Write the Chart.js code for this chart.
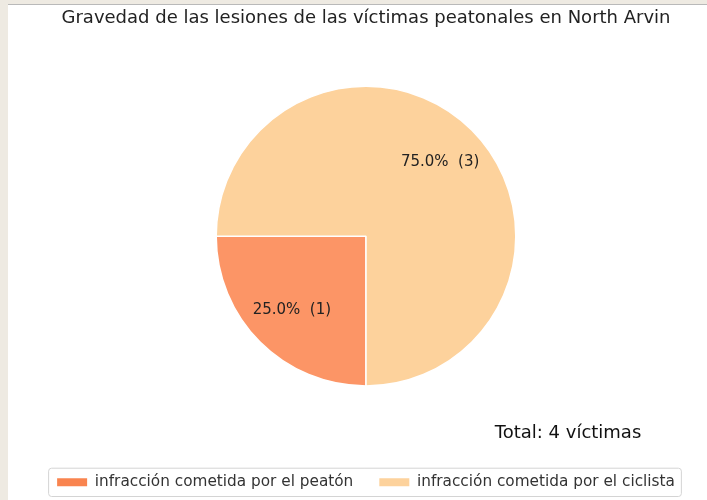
<html>
<head>
  <title></title>
  <style>
    body { margin: 0; background: #eeeae2; }
    #wrap { position: absolute; left: 8px; top: 4px; width: 699px; height: 496px; background: #fff; border-top: 1px solid #b9b9b9; box-sizing: border-box; }
  </style>
</head>
<body>
  <div id="wrap">
  <canvas id="myChart"></canvas>
</div>

<script src="https://cdn.jsdelivr.net/npm/chart.js"></script>

<script>
  const categories = ['infracción cometida por el peatón', 'infracción cometida por el ciclista'];
  const counts = [1, 3];
  const colors = ['#fc9566', '#fdd29c'];
  const swatchColors = ['#f9844f', '#fdd29c'];
  const titleText = 'Gravedad de las lesiones de las víctimas peatonales en North Arvin';
  const totalText = 'Total: 4 víctimas';

  const total = counts.reduce((a, b) => a + b, 0);

  // percent labels inside slices + total note + legend frame
  const extras = {
    id: 'extras',
    afterDatasetsDraw(chart) {
      const c = chart.ctx;
      const meta = chart.getDatasetMeta(0);
      c.save();
      c.font = '15px "DejaVu Sans"';
      c.fillStyle = '#222';
      c.textAlign = 'center';
      c.textBaseline = 'middle';
      meta.data.forEach((arc, i) => {
        const mid = (arc.startAngle + arc.endAngle) / 2;
        const r = arc.outerRadius * 0.7;
        const pct = (counts[i] / total * 100).toFixed(1) + '%  (' + counts[i] + ')';
        c.fillText(pct, arc.x + Math.cos(mid) * r, arc.y + Math.sin(mid) * r);
      });
      c.restore();
    },
    afterDraw(chart) {
      const c = chart.ctx;
      c.save();
      c.font = '18px "DejaVu Sans"';
      c.fillStyle = '#111';
      c.textAlign = 'center';
      c.textBaseline = 'middle';
      c.fillText(totalText, 560, 428);
      const boxes = chart.legend.legendHitBoxes;
      if (boxes && boxes.length) {
        const x0 = Math.min(...boxes.map(b => b.left)) - 9;
        const x1 = Math.max(...boxes.map(b => b.left + b.width)) + 6;
        const y0 = Math.min(...boxes.map(b => b.top)) - 7;
        const y1 = Math.max(...boxes.map(b => b.top + b.height)) + 6;
        c.strokeStyle = '#d4d4d4';
        c.lineWidth = 1;
        c.beginPath();
        c.roundRect(x0 + 0.5, y0 + 0.5, x1 - x0, y1 - y0, 3);
        c.stroke();
      }
      c.restore();
    }
  };

  new Chart(document.getElementById('myChart'), {
    type: 'pie',
    data: {
      labels: categories,
      datasets: [{
        data: counts,
        backgroundColor: colors,
        borderColor: '#fff',
        borderWidth: 1.5
      }]
    },
    options: {
      responsive: true,
      maintainAspectRatio: false,
      animation: false,
      rotation: 180,
      layout: { padding: { left: 17, right: 0, top: 0, bottom: 0 } },
      plugins: {
        title: {
          display: true,
          text: titleText,
          color: '#222',
          font: { family: 'DejaVu Sans', size: 18, weight: 'normal' },
          padding: { top: 3, bottom: 56 }
        },
        legend: {
          position: 'bottom',
          title: {
            display: true,
            text: ' ',
            font: { size: 10, lineHeight: 1 },
            padding: { top: 26, bottom: 26 }
          },
          labels: {
            color: '#333',
            font: { family: 'DejaVu Sans', size: 15.3 },
            boxWidth: 30,
            boxHeight: 8,
            padding: 26,
            generateLabels(chart) {
              return categories.map((name, i) => ({
                text: name,
                fillStyle: swatchColors[i],
                strokeStyle: 'rgba(0,0,0,0)',
                lineWidth: 0,
                fontColor: '#333',
                index: i
              }));
            }
          }
        },
        tooltip: { enabled: false }
      }
    },
    plugins: [extras]
  });
</script>
</body>
</html>
